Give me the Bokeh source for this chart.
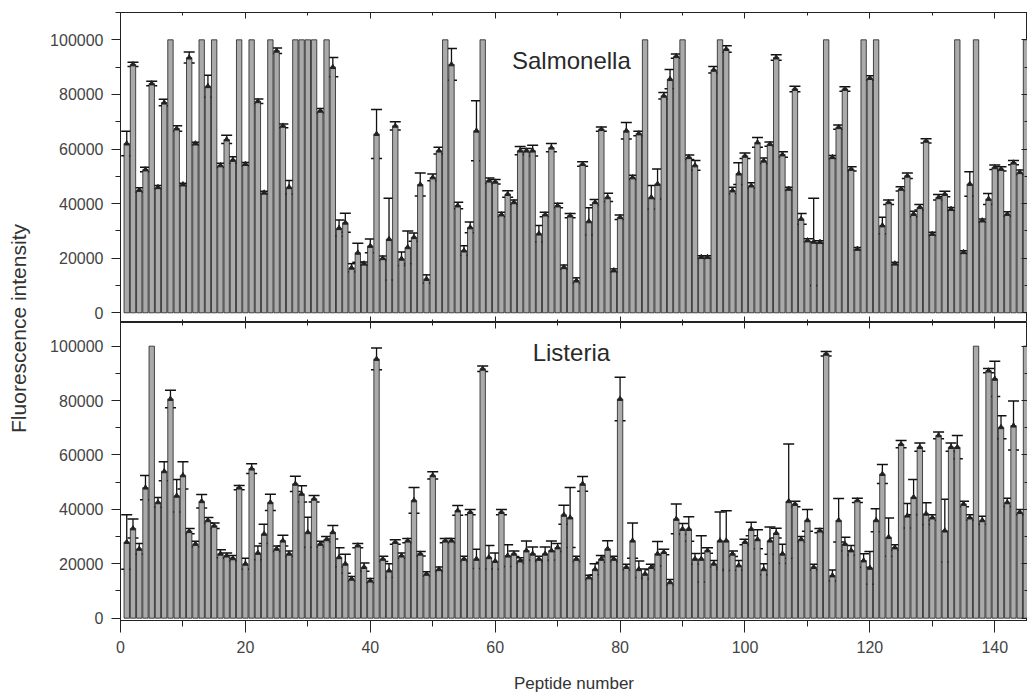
import math
from bokeh.plotting import figure
from bokeh.models import (ColumnDataSource, Whisker, TeeHead, Range1d, LinearAxis,
                          SingleIntervalTicker, BasicTickFormatter, Label)
from bokeh.layouts import row, column
from bokeh.embed import file_html
from bokeh.resources import INLINE

peptides = list(range(1, 146))

salmonella_mean = [
    62000, 91000, 45000, 52500, 84000, 46000, 77000, 100000, 67500, 47000,
    93500, 62000, 100000, 83000, 100000, 54000, 63500, 56000, 100000, 54500,
    100000, 77500, 44000, 100000, 96000, 68500, 46000, 100000, 100000, 100000,
    100000, 74000, 100000, 90000, 31000, 33000, 16500, 22000, 18000, 24500,
    65500, 20000, 27000, 68500, 19800, 24000, 27700, 47000, 12400, 49600,
    59400, 100000, 91000, 39300, 22800, 31300, 66700, 100000, 48400, 48000,
    36000, 43500, 40500, 59400, 59400, 59400, 29000, 36000, 60500, 39300,
    16700, 35600, 11800, 54500, 33500, 40500, 67300, 42300, 15500, 35000,
    66700, 49600, 65700, 100000, 42300, 47200, 79500, 85600, 94000, 100000,
    57000, 54000, 20400, 20400, 89000, 100000, 96600, 44800, 51000, 57500,
    46600, 62400, 55700, 61800, 93500, 58000, 45400, 82000, 34400, 26500,
    26000, 25900, 100000, 57000, 68000, 82000, 52700, 23400, 100000, 86000,
    100000, 32000, 40500, 18000, 45400, 50200, 36200, 38700, 63000, 28900,
    42300, 43500, 38000, 100000, 22200, 47200, 100000, 33800, 41700, 53300,
    52700, 36200, 55000, 51500, 100000]

salmonella_err = [
    4500, 800, 800, 800, 800, 600, 1200, 0, 1000, 500,
    2000, 500, 0, 4000, 0, 800, 1500, 1200, 0, 600,
    0, 800, 500, 0, 1000, 700, 2500, 0, 0, 0,
    0, 800, 0, 3500, 3000, 3500, 1500, 3500, 600, 2500,
    9000, 800, 15000, 1500, 2500, 6000, 1500, 4200, 1500, 1200,
    1200, 0, 5800, 1200, 1800, 2000, 11000, 0, 1000, 800,
    800, 1200, 800, 1500, 800, 2000, 3000, 800, 1500, 800,
    800, 800, 1000, 800, 5000, 1000, 800, 1500, 600, 800,
    3000, 800, 800, 0, 4300, 5500, 1200, 3500, 800, 0,
    800, 1800, 500, 500, 1200, 0, 1200, 1200, 4000, 1000,
    1000, 1800, 1000, 800, 1000, 1000, 600, 1000, 2000, 600,
    16000, 500, 0, 600, 800, 800, 800, 500, 0, 800,
    0, 3000, 800, 500, 800, 1000, 1000, 1000, 800, 600,
    1000, 1000, 600, 0, 500, 4500, 0, 600, 2000, 800,
    800, 800, 800, 800, 0]

listeria_mean = [
    28000, 33000, 25500, 48000, 100000, 42600, 54000, 80600, 45000, 52500,
    32000, 27300, 43000, 36000, 34000, 23700, 23000, 22000, 48000, 20000,
    55000, 24000, 31000, 42600, 25500, 28500, 23700, 49400, 45700, 31600,
    43900, 27300, 29000, 31600, 22400, 20000, 14500, 26700, 18800, 13800,
    95300, 21800, 17500, 28000, 23000, 28500, 43300, 23700, 16300, 52500,
    18000, 28500, 28500, 39600, 21800, 39000, 21800, 91700, 22400, 21000,
    39000, 23000, 23700, 21200, 24900, 23700, 21800, 23700, 24900, 26000,
    38000, 37000, 21800, 49400, 15000, 18000, 21800, 25500, 21800, 80600,
    18800, 28500, 18000, 16300, 18800, 23700, 24300, 13200, 36500, 32800,
    32800, 21800, 21800, 24900, 20000, 28500, 28500, 23700, 19400, 28000,
    32800, 29000, 18000, 28500, 31300, 23700, 43000, 42000, 29000, 36000,
    18800, 32200, 97200, 15700, 36000, 27300, 24900, 43300, 21200, 18500,
    36000, 53000, 29800, 26000, 64000, 37700, 44500, 62900, 38400, 37000,
    67200, 32200, 62900, 62900, 42000, 37000, 100000, 36000, 91000, 88000,
    70200, 42600, 70800, 39000, 100000]

listeria_err = [
    10000, 3500, 2000, 4500, 0, 1800, 3500, 3200, 6000, 5000,
    1000, 1000, 2500, 1000, 1000, 1500, 1000, 1000, 800, 2000,
    1800, 2500, 3500, 3000, 1000, 2000, 1000, 2800, 3000, 5500,
    1200, 1000, 1000, 2500, 3500, 3500, 800, 800, 1500, 800,
    4000, 1000, 2500, 800, 1000, 800, 4700, 800, 800, 1300,
    800, 800, 800, 1800, 1000, 1000, 3500, 1000, 4300, 3000,
    1000, 4000, 1000, 1000, 3500, 2500, 1000, 2500, 3500, 1500,
    3500, 11000, 1000, 2700, 800, 2000, 1200, 3000, 1000, 8000,
    1000, 6500, 3000, 1800, 1000, 4500, 1000, 1000, 5500, 2000,
    4500, 2000, 8500, 1000, 1200, 10500, 11000, 1000, 1800, 1000,
    2500, 3500, 2000, 5000, 1800, 3500, 21000, 1000, 1000, 4000,
    1000, 800, 800, 2000, 8000, 2500, 1800, 800, 2500, 6000,
    4200, 3500, 7000, 1000, 1300, 4500, 6500, 1500, 4000, 1000,
    1200, 11500, 1500, 4300, 1000, 1000, 0, 1500, 800, 6500,
    4200, 1500, 9000, 1000, 0]

y_ticks_interval = 20000
x_ticks_interval = 20
panel_titles = ["Salmonella", "Listeria"]

FONT = "Liberation Sans"
AX = "#222222"
TXT = "#444444"
X_END = 145.24


def style(ax, labels=True):
    ax.axis_line_color = AX
    ax.major_tick_line_color = AX
    ax.minor_tick_line_color = AX
    ax.axis_line_width = 1
    ax.major_label_text_font = FONT
    ax.major_label_text_color = TXT
    if labels:
        ax.major_label_text_font_size = "16px"
        ax.major_label_standoff = 8
    else:
        ax.major_label_text_font_size = "0px"
        ax.major_label_standoff = 0
        ax.major_label_text_alpha = 0


def inner_axis(kind):
    if kind == "x":
        ticker = SingleIntervalTicker(interval=x_ticks_interval, num_minor_ticks=2)
    else:
        ticker = SingleIntervalTicker(interval=y_ticks_interval, num_minor_ticks=2)
    ax = LinearAxis(ticker=ticker, major_tick_in=6, major_tick_out=0,
                    minor_tick_in=3, minor_tick_out=0)
    style(ax, labels=False)
    return ax


def panel(mean, err, title, title_y, height, y_start, y_end, bottom_axis, min_top, min_bottom):
    p = figure(width=989, height=height, output_backend="svg", toolbar_location=None,
               x_range=Range1d(0, X_END), y_range=Range1d(y_start, y_end),
               x_axis_location=None, y_axis_location=None,
               min_border_left=82, min_border_right=0,
               min_border_top=min_top, min_border_bottom=min_bottom)
    p.grid.visible = False
    p.outline_line_color = AX
    p.outline_line_width = 1
    p.background_fill_color = "white"
    p.border_fill_color = "white"

    src = ColumnDataSource(dict(x=peptides, top=mean))
    p.vbar(x="x", top="top", bottom=0, width=0.86, source=src,
           fill_color="#aaaaaa", line_color="#1e1e1e", line_width=0.8,
           hatch_pattern="v_line", hatch_color="#f4f4f4", hatch_alpha=0.7,
           hatch_scale=2.2, hatch_weight=0.7)

    ex = [x for x, e in zip(peptides, err) if e > 0]
    em = [m for m, e in zip(mean, err) if e > 0]
    ee = [e for e in err if e > 0]
    esrc = ColumnDataSource(dict(x=ex, y=em,
                                 upper=[m + e for m, e in zip(em, ee)],
                                 lower=[m - e for m, e in zip(em, ee)]))
    w = Whisker(source=esrc, base="x", upper="upper", lower="lower",
                line_color="#111111", line_width=1.3,
                upper_head=TeeHead(size=11, line_color="#111111", line_width=1.5),
                lower_head=TeeHead(size=11, line_color="#111111", line_width=1.5))
    p.add_layout(w)
    p.scatter("x", "y", source=esrc, marker="triangle", size=5,
              fill_color="#222222", line_color="#222222")

    left = LinearAxis(ticker=SingleIntervalTicker(interval=y_ticks_interval, num_minor_ticks=2),
                      formatter=BasicTickFormatter(use_scientific=False),
                      major_tick_in=0, major_tick_out=9, minor_tick_in=0, minor_tick_out=5)
    style(left)
    p.add_layout(left, "left")
    p.add_layout(inner_axis("y"), "right")
    p.add_layout(inner_axis("x"), "above")
    if bottom_axis:
        bx = LinearAxis(ticker=SingleIntervalTicker(interval=x_ticks_interval, num_minor_ticks=2),
                        major_tick_in=0, major_tick_out=12, minor_tick_in=0, minor_tick_out=6,
                        axis_label="Peptide number")
        style(bx)
        bx.axis_label_text_font = FONT
        bx.axis_label_text_font_size = "17px"
        bx.axis_label_text_font_style = "normal"
        bx.axis_label_text_color = "#333333"
        bx.axis_label_standoff = 18
        p.add_layout(bx, "below")
    else:
        p.add_layout(inner_axis("x"), "below")

    p.add_layout(Label(x=72.2, y=title_y, text=title, text_font=FONT,
                       text_font_size="24px", text_align="center",
                       text_baseline="alphabetic", text_color="#2a2a2a"))
    return p


p_top = panel(salmonella_mean, salmonella_err, panel_titles[0], 92300,
              322, -3550, 110000, False, 12, 0)
p_bot = panel(listeria_mean, listeria_err, panel_titles[1], 97700,
              374, -850, 108700, True, 0, 76)

lab = figure(width=38, height=696, output_backend="svg", toolbar_location=None,
             x_range=Range1d(0, 38), y_range=Range1d(0, 696),
             x_axis_location=None, y_axis_location=None,
             min_border=0)
lab.grid.visible = False
lab.outline_line_color = None
lab.add_layout(Label(x=18, y=368, text="Fluorescence intensity", angle=math.pi / 2,
                     text_font=FONT, text_font_size="21px", text_align="center",
                     text_baseline="middle", text_color="#333333"))

layout = row(lab, column(p_top, p_bot))
open("out.html", "w").write(file_html(layout, INLINE))
